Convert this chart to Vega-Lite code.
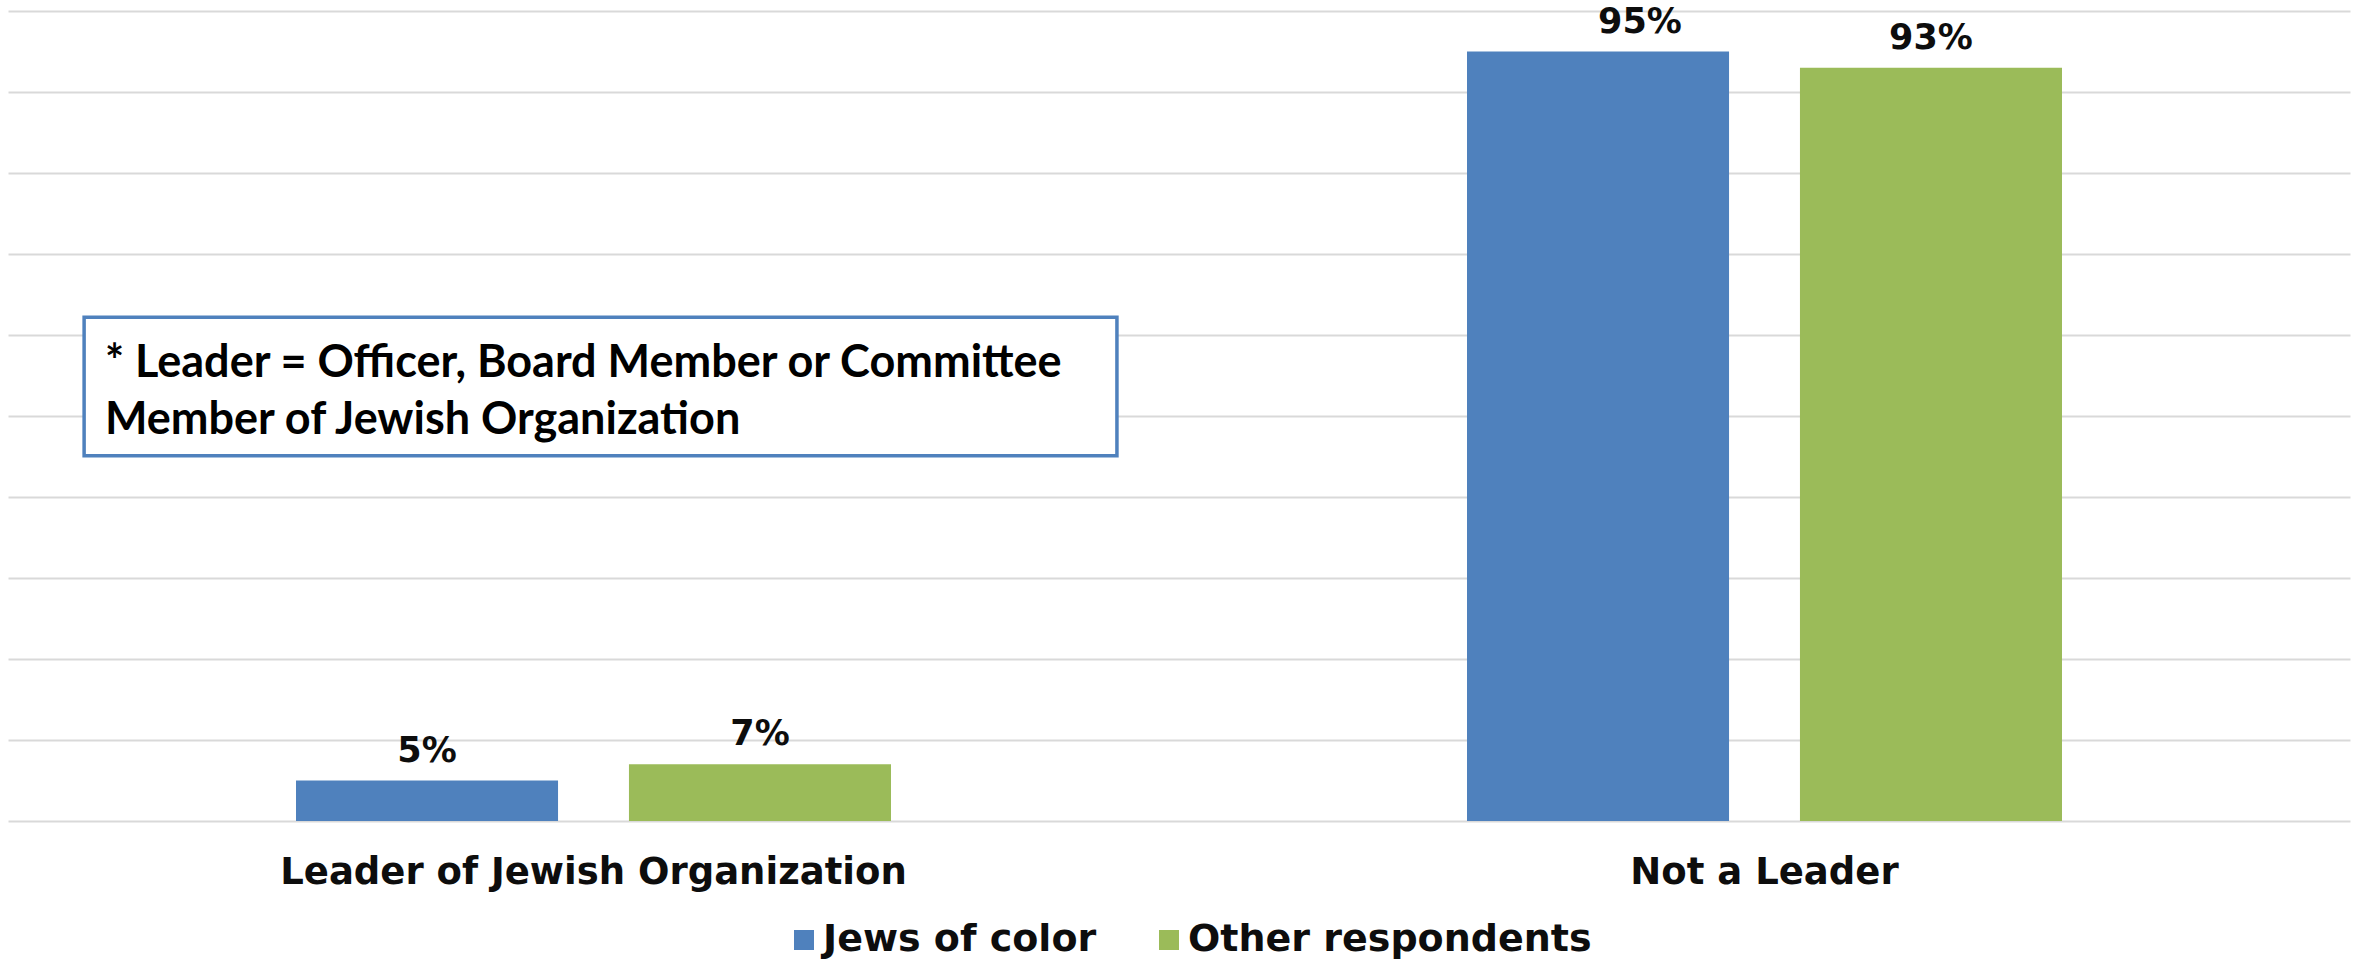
{
  "$schema": "https://vega.github.io/schema/vega-lite/v6.json",
  "autosize": {"type": "none"},
  "padding": {"left": 8, "top": 11, "right": 13, "bottom": 139},
  "width": 2342,
  "height": 810,
  "background": "white",
  "config": {
    "view": {"stroke": null},
    "font": "DejaVu Sans",
    "legend": {
      "orient": "none",
      "legendX": 777,
      "legendY": 910,
      "direction": "horizontal",
      "title": null,
      "symbolType": "square",
      "symbolSize": 400,
      "symbolStrokeWidth": 0,
      "labelFont": "DejaVu Sans",
      "labelFontSize": 38,
      "labelFontWeight": "bold",
      "labelColor": "#0d0d0d",
      "labelOffset": 0,
      "columnPadding": 53,
      "labelLimit": 0,
      "padding": 0
    }
  },
  "datasets": {
    "survey": [
      {"role": "Leader of Jewish Organization", "group": "Jews of color", "pct": 0.05},
      {"role": "Leader of Jewish Organization", "group": "Other respondents", "pct": 0.07},
      {"role": "Not a Leader", "group": "Jews of color", "pct": 0.95},
      {"role": "Not a Leader", "group": "Other respondents", "pct": 0.93}
    ],
    "note": [
      {"note": "* Leader = Officer, Board Member or Committee\nMember of Jewish Organization"}
    ]
  },
  "layer": [
    {
      "data": {"name": "survey"},
      "encoding": {
        "x": {
          "field": "role",
          "type": "nominal",
          "sort": ["Leader of Jewish Organization", "Not a Leader"],
          "scale": {"paddingInner": 0, "paddingOuter": 0},
          "axis": {
            "title": null,
            "labelAngle": 0,
            "ticks": false,
            "domain": false,
            "labelFont": "DejaVu Sans",
            "labelFontSize": 37,
            "labelFontWeight": "bold",
            "labelColor": "#0d0d0d",
            "labelPadding": 33,
            "labelLimit": 0
          }
        },
        "xOffset": {
          "field": "group",
          "type": "nominal",
          "scale": {"paddingInner": 0.213, "paddingOuter": 0.865}
        },
        "y": {
          "field": "pct",
          "type": "quantitative",
          "scale": {"domain": [0, 1], "nice": false},
          "axis": {
            "title": null,
            "labels": false,
            "ticks": false,
            "domain": false,
            "values": [0, 0.1, 0.2, 0.3, 0.4, 0.5, 0.6, 0.7, 0.8, 0.9, 1],
            "gridColor": "#d9d9d9",
            "gridWidth": 2
          }
        }
      },
      "layer": [
        {
          "mark": {"type": "bar"},
          "encoding": {
            "color": {
              "field": "group",
              "type": "nominal",
              "scale": {"domain": ["Jews of color", "Other respondents"], "range": ["#4f81bd", "#9bbb59"]}
            }
          }
        },
        {
          "transform": [{"filter": "datum.pct < 0.94"}],
          "mark": {"type": "text", "baseline": "alphabetic", "dy": -19, "font": "DejaVu Sans", "fontSize": 35, "fontWeight": "bold", "color": "#0d0d0d"},
          "encoding": {
            "text": {"field": "pct", "type": "quantitative", "format": ".0%"}
          }
        },
        {
          "transform": [{"filter": "datum.pct >= 0.94"}],
          "mark": {"type": "text", "align": "left", "baseline": "alphabetic", "dy": -19, "font": "DejaVu Sans", "fontSize": 35, "fontWeight": "bold", "color": "#0d0d0d"},
          "encoding": {
            "text": {"field": "pct", "type": "quantitative", "format": ".0%"}
          }
        }
      ]
    },
    {
      "data": {"name": "note"},
      "layer": [
        {
          "mark": {"type": "rect", "fill": "white", "stroke": "#4f81bd", "strokeWidth": 3.5},
          "encoding": {
            "x": {"datum": 0.0325, "type": "quantitative", "scale": {"domain": [0, 1], "nice": false}, "axis": null},
            "x2": {"datum": 0.4735},
            "y": {"datum": 0.622, "type": "quantitative"},
            "y2": {"datum": 0.451}
          }
        },
        {
          "mark": {"type": "text", "align": "left", "baseline": "alphabetic", "lineBreak": "\n", "lineHeight": 57, "font": "Lato", "fontSize": 45, "fontWeight": "bold", "color": "#000000"},
          "encoding": {
            "x": {"datum": 0.0414, "type": "quantitative", "scale": {"domain": [0, 1], "nice": false}, "axis": null},
            "y": {"datum": 0.548, "type": "quantitative"},
            "text": {"field": "note"}
          }
        }
      ]
    }
  ],
  "resolve": {"scale": {"x": "independent"}}
}
